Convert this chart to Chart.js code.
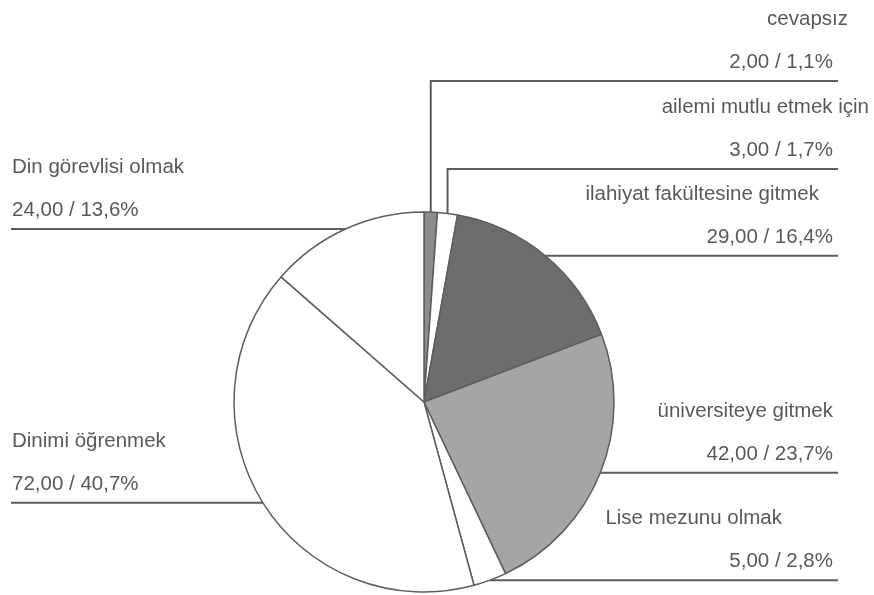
<!DOCTYPE html>
<html>
<head>
<meta charset="utf-8">
<script src="https://cdn.jsdelivr.net/npm/chart.js@4/dist/chart.umd.min.js"></script>
<style>
  html, body { margin: 0; padding: 0; background: #fff; }
  #wrap { width: 874px; height: 595px; }
</style>
</head>
<body>
<div id="wrap"><canvas id="myPieChart"></canvas></div>
<script>
const categories = [
  "cevapsız",
  "ailemi mutlu etmek için",
  "ilahiyat fakültesine gitmek",
  "üniversiteye gitmek",
  "Lise mezunu olmak",
  "Dinimi öğrenmek",
  "Din görevlisi olmak"
];
const counts = [2, 3, 29, 42, 5, 72, 24];

const sliceColors = ["#8c8c8c", "#ffffff", "#6d6d6d", "#a5a5a5", "#ffffff", "#ffffff", "#ffffff"];

// leader line layout: elbow height for the thin top slices, right edge for the names
const elbowY = [81, 169, null, null, null, null, null];
const nameRight = [848, 869, 819, 833, 782, null, null];

const lineColor = "#5d5d5d";
const textColor = "#595959";
const labelFont = "20.5px 'Liberation Sans', Arial, sans-serif";

function fmt(v, digits) {
  return v.toFixed(digits).replace('.', ',');
}

const leaderLabels = {
  id: 'leaderLabels',
  afterDatasetsDraw(chart) {
    const ctx = chart.ctx;
    const meta = chart.getDatasetMeta(0);
    const total = counts.reduce((a, b) => a + b, 0);
    ctx.save();
    ctx.strokeStyle = lineColor;
    ctx.lineWidth = 2;
    ctx.fillStyle = textColor;
    ctx.font = labelFont;
    ctx.textBaseline = 'alphabetic';
    meta.data.forEach(function (arc, i) {
      const p = arc.getProps(['x', 'y', 'startAngle', 'endAngle', 'outerRadius'], true);
      const mid = (p.startAngle + p.endAngle) / 2;
      const px = p.x + p.outerRadius * Math.cos(mid);
      const py = p.y + p.outerRadius * Math.sin(mid);
      const right = px >= p.x;
      const ly = elbowY[i] !== null ? elbowY[i] : py;
      const endX = right ? 838 : 11;

      ctx.beginPath();
      ctx.moveTo(px, py);
      if (elbowY[i] !== null) ctx.lineTo(px, ly);
      ctx.lineTo(endX, ly);
      ctx.stroke();

      const valueText = fmt(counts[i], 2) + " / " + fmt(counts[i] / total * 100, 1) + "%";
      if (right) {
        ctx.textAlign = 'right';
        ctx.fillText(categories[i], nameRight[i], ly - 56);
        ctx.fillText(valueText, 833, ly - 13);
      } else {
        ctx.textAlign = 'left';
        ctx.fillText(categories[i], 12, ly - 56);
        ctx.fillText(valueText, 12, ly - 13);
      }
    });
    ctx.restore();
  }
};

function setupPieChart() {
  const ctx = document.getElementById("myPieChart").getContext('2d');
  new Chart(ctx, {
    type: "pie",
    data: {
      labels: categories,
      datasets: [{
        data: counts,
        backgroundColor: sliceColors,
        borderColor: lineColor,
        borderWidth: 1.5,
        hoverOffset: 0,
        radius: 190,
        clip: false
      }]
    },
    options: {
      responsive: true,
      maintainAspectRatio: false,
      animation: false,
      layout: {
        padding: { top: 212, bottom: 3, left: 234, right: 260 }
      },
      plugins: {
        legend: { display: false },
        tooltip: { enabled: false }
      }
    },
    plugins: [leaderLabels]
  });
}

setupPieChart();
</script>
</body>
</html>
